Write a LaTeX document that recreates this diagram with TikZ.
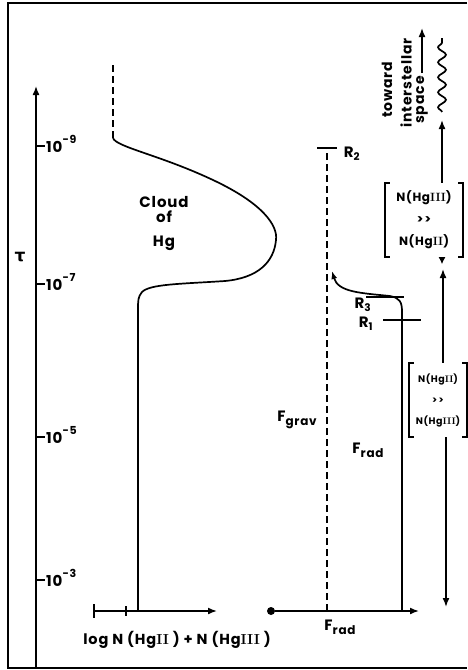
\documentclass[tikz,border=0pt]{standalone}
\usepackage{fontspec}
\setsansfont{Poppins}[LetterSpace=6]
\newfontfamily\grkfont{DejaVu Sans}
\usetikzlibrary{arrows.meta,decorations.pathmorphing}
\tikzset{
  frame/.style = {line width=1.6pt},
  curve/.style = {line width=1.7pt},
  dsh/.style   = {line width=1.6pt, dash pattern=on 7pt off 4pt},
  arr/.style   = {line width=1.6pt, -{Latex[length=9pt,width=7pt]}},
  lbl/.style   = {font=\sffamily\bfseries\fontsize{15}{18}\selectfont, inner sep=0pt},
  small/.style = {font=\sffamily\bfseries\fontsize{14}{16}\selectfont, inner sep=0pt},
  brk/.style   = {font=\sffamily\bfseries\fontsize{12}{22}\selectfont, inner sep=0pt, align=center},
}
\newcommand\rmII{{\rmfamily\bfseries II}}
\newcommand\rmIII{{\rmfamily\bfseries III}}
\newcommand\lowtxt[1]{\raisebox{-4pt}{\fontsize{12}{12}\selectfont #1}}
\newcommand\uptxt[1]{\raisebox{9pt}{\fontsize{11}{11}\selectfont #1}}
\newcommand\muchmore{>\kern1.5pt>}

\begin{document}
\begin{tikzpicture}[x=1pt,y=-1pt]
  \useasboundingbox (0,0) rectangle (467,670);
  \draw[frame] (467,3) -- (8,3) -- (8,668) -- (467,668);
  % tau axis
  \coordinate (taubot) at (36,668);
  \coordinate (tautop) at (36,86);
  \draw[arr] (taubot) -- (tautop);
  \node[font=\grkfont\bfseries\fontsize{17}{17}\selectfont, inner sep=0pt] (tau) at (20,257) {τ};
  \foreach \y/\e in {146/9, 284/7, 437/5, 580/3} {
    \draw[curve] (36,\y) -- (45,\y);
    \node[lbl, anchor=base west] (t\e) at (46,\y+6) {10\uptxt{-\e}};
  }
  % Hg cloud
  \draw[dsh] (113,65) -- (113,138);
  \draw[curve] (113,138) .. controls (116,147) and (160,155) .. (213,180)
    .. controls (262,203) and (278,225) .. (276,240)
    .. controls (274,262) and (258,278) .. (225,281)
    .. controls (180,284) and (150,284) .. (142,292)
    .. controls (138,297) and (138,300) .. (138,310) -- (138,611);
  \node[lbl, align=center] (cloud) at (164,224) {Cloud\\[-3pt]of\\[6pt]Hg};
  % abundance axis
  \coordinate (nstart) at (94,611);
  \coordinate (nend) at (217,611);
  \draw[arr] (nstart) -- (nend);
  \draw[curve] (94,604) -- (94,618);
  \draw[curve] (126,606) -- (126,616);
  \node[small, font=\sffamily\bfseries\fontsize{14.5}{16}\selectfont] (nlbl) at (177,640)
    {log N (Hg\rmII\ ) + N (Hg\rmIII\ )};
  % force axis
  \node[circle, fill, inner sep=0pt, minimum size=8pt] (origin) at (271,611) {};
  \coordinate (fend) at (419,611);
  \draw[arr] (origin) -- (fend);
  \draw[dsh] (327,611) -- (327,148);
  \draw[curve] (317,148) -- (337,148);
  \node[lbl] (r2) at (352,154) {R\textsubscript{2}};
  \draw[curve, -{Latex[length=8pt,width=6pt]}] (402,611) -- (402,312)
    .. controls (402,302) and (400,298) .. (390,296)
    .. controls (360,293) and (338,292) .. (332,271);
  \draw[curve] (366,297) -- (404,297);
  \draw[curve] (383,320) -- (421,320);
  \node[lbl] (r3) at (363,305) {R\textsubscript{3}};
  \node[lbl] (r1) at (366,324) {R\textsubscript{1}};
  \node[lbl] (fgrav) at (297,420) {F\lowtxt{grav}};
  \node[lbl] (frad) at (368,450) {F\lowtxt{rad}};
  \node[lbl] (frad2) at (340,627) {F\lowtxt{rad}};
  % ionisation regions
  \node[brk, minimum width=78pt, minimum height=74pt] (upbox) at (424,220)
    {N(Hg\rmIII)\\\muchmore\\N(Hg\rmII)};
  \draw[curve] ([xshift=5pt]upbox.north west) -- (upbox.north west)
    -- (upbox.south west) -- ([xshift=5pt]upbox.south west);
  \draw[curve] ([xshift=-5pt]upbox.north east) -- (upbox.north east)
    -- (upbox.south east) -- ([xshift=-5pt]upbox.south east);
  \node[brk, font=\sffamily\bfseries\fontsize{9.5}{21}\selectfont,
    minimum width=58pt, minimum height=74pt] (lowbox) at (438,400)
    {N(Hg\rmII)\\\muchmore\\N(Hg\rmIII)};
  \draw[curve] ([xshift=5pt]lowbox.north west) -- (lowbox.north west)
    -- (lowbox.south west) -- ([xshift=5pt]lowbox.south west);
  \draw[curve] ([xshift=-5pt]lowbox.north east) -- (lowbox.north east)
    -- (lowbox.south east) -- ([xshift=-5pt]lowbox.south east);
  \coordinate (wavebot) at (442,120);
  \coordinate (wavetop) at (442,38);
  \coordinate (midtip) at (443,269);
  \coordinate (bottip) at (446,607);
  \draw[arr] (upbox.north -| wavebot) -- (wavebot);
  \draw[curve, decorate, decoration={snake, segment length=15pt, amplitude=4pt}]
    ([yshift=8pt]wavebot) -- (wavetop);
  \draw[line width=1.6pt, -{Latex[length=7pt,width=7pt]}] (upbox.south -| wavebot) -- ++(0,7);
  \draw[arr] (lowbox.north -| midtip) -- (midtip);
  \draw[arr] (lowbox.south -| bottip) -- (bottip);
  % escape
  \node[small, rotate=90] (toward) at (387,90) {toward};
  \node[small, rotate=90] (inter) at (406,83) {interstellar};
  \node[small, rotate=90] (space) at (422,100) {space};
  \coordinate (spacetip) at (422,28);
  \draw[arr] ([yshift=3pt]space.east) -- (spacetip);
\end{tikzpicture}
\end{document}
